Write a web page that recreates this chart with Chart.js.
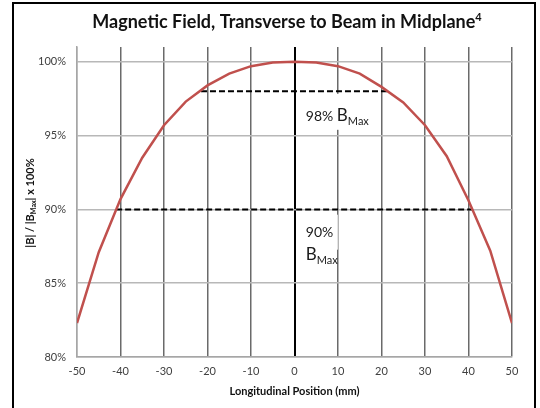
<!DOCTYPE html>
<html>
<head>
<meta charset="utf-8">
<script src="https://cdn.jsdelivr.net/npm/chart.js@4/dist/chart.umd.min.js"></script>
<style>
html, body { margin: 0; padding: 0; background: #fff; }
#wrap { width: 540px; height: 408px; }
</style>
</head>
<body>
<div id="wrap"><canvas id="fieldChart" width="540" height="408"></canvas></div>
<script>
// field profile (mm -> % of max)
const positions = [-50, -45, -40, -35, -30, -25, -20, -15, -10, -5, 0, 5, 10, 15, 20, 25, 30, 35, 40, 45, 50];
const fieldPercent = [82.3, 87.1, 90.7, 93.5, 95.7, 97.3, 98.4, 99.2, 99.7, 99.95, 100, 99.95, 99.7, 99.2, 98.3, 97.25, 95.7, 93.6, 90.6, 87.2, 82.3];

const xTicks = [-50, -40, -30, -20, -10, 0, 10, 20, 30, 40, 50];
const yTicks = [80, 85, 90, 95, 100];

// dashed marker lines (start / end position in mm)
const dash98X = [-21.5, 21.7];
const dash90X = [-41, 41];

const titleText = 'Magnetic Field, Transverse to Beam in Midplane';
const xTitle = 'Longitudinal Position (mm)';

const FONT = 'Lato, "Open Sans", sans-serif';

function drawParts(ctx, parts, x, y) {
    // parts: [text, font, dy]
    let cx = x;
    parts.forEach(p => {
        ctx.font = p[1];
        ctx.fillText(p[0], cx, y + (p[2] || 0));
        cx += ctx.measureText(p[0]).width;
    });
}

function partsWidth(ctx, parts) {
    let w = 0;
    parts.forEach(p => { ctx.font = p[1]; w += ctx.measureText(p[0]).width; });
    return w;
}

const decorPlugin = {
    id: 'decor',
    beforeDraw(chart) {
        const ctx = chart.ctx;
        ctx.save();
        ctx.fillStyle = '#fff';
        ctx.fillRect(0, 0, chart.width, chart.height);
        ctx.strokeStyle = '#000';
        ctx.lineWidth = 2;
        ctx.strokeRect(13, 3, 522, 450);
        ctx.restore();
    },
    afterDraw(chart) {
        const ctx = chart.ctx;
        const area = chart.chartArea;
        const xs = chart.scales.x, ys = chart.scales.y;
        ctx.save();
        ctx.fillStyle = '#111';
        ctx.textBaseline = 'alphabetic';

        // title
        const tParts = [[titleText, 'bold 18px ' + FONT, 0], ['4', 'bold 11px ' + FONT, -7]];
        const tw = partsWidth(ctx, tParts);
        drawParts(ctx, tParts, 287 - tw / 2, 28);

        // x axis title
        ctx.font = 'bold 11px ' + FONT;
        ctx.textAlign = 'center';
        ctx.fillText(xTitle, (area.left + area.right) / 2, 395);
        ctx.textAlign = 'left';

        // y axis title (rotated, with subscript)
        const yParts = [['|B| / |B', 'bold 11px ' + FONT, 0], ['Max', 'bold 7px ' + FONT, 2], ['| x 100%', 'bold 11px ' + FONT, 0]];
        const yw = partsWidth(ctx, yParts);
        ctx.save();
        ctx.translate(34, 203);
        ctx.rotate(-Math.PI / 2);
        drawParts(ctx, yParts, -yw / 2, 0);
        ctx.restore();

        // annotation boxes
        const ax = xs.getPixelForValue(2.6);
        let by = ys.getPixelForValue(96.0);
        ctx.fillStyle = '#fff';
        ctx.fillRect(ax - 6, by - 27, 62, 36);
        ctx.fillStyle = '#1a1a1a';
        drawParts(ctx, [['98% ', '14px ' + FONT, 0], ['B', '17px ' + FONT, 0], ['Max', '11px ' + FONT, 4]], ax, by);

        by = ys.getPixelForValue(88.15);
        ctx.fillStyle = '#fff';
        ctx.fillRect(ax - 6, by - 22, 38, 35);
        ctx.fillStyle = '#1a1a1a';
        drawParts(ctx, [['90%', '14px ' + FONT, 0]], ax, by);
        drawParts(ctx, [['B', '17px ' + FONT, 0], ['Max', '11px ' + FONT, 4]], ax, by + 23);
        ctx.restore();
    }
};

const ctx = document.getElementById('fieldChart').getContext('2d');
const fieldChart = new Chart(ctx, {
    type: 'line',
    data: {
        datasets: [
            {
                data: positions.map((p, i) => ({ x: p, y: fieldPercent[i] })),
                borderColor: '#c0504d',
                borderWidth: 2.5,
                pointRadius: 0,
                tension: 0,
                order: 0
            },
            {
                data: dash98X.map(p => ({ x: p, y: 98 })),
                borderColor: '#000',
                borderWidth: 2,
                borderDash: [6, 3],
                pointRadius: 0,
                order: 1
            },
            {
                data: dash90X.map(p => ({ x: p, y: 90 })),
                borderColor: '#000',
                borderWidth: 2,
                borderDash: [6, 3],
                pointRadius: 0,
                order: 1
            }
        ]
    },
    options: {
        responsive: false,
        animation: false,
        layout: { padding: { left: 0, right: 28, top: 47, bottom: 0 } },
        plugins: {
            legend: { display: false },
            title: { display: false },
            tooltip: { enabled: false }
        },
        scales: {
            x: {
                type: 'linear',
                min: -50,
                max: 50,
                afterBuildTicks: (scale) => { scale.ticks = xTicks.map(v => ({ value: v })); },
                afterFit: (scale) => { scale.height = 51; },
                border: { display: true, color: '#a6a6a6', width: 1.5 },
                grid: {
                    drawTicks: false,
                    color: (c) => c.tick.value === 0 ? '#000' : (c.tick.value === -50 ? '#a6a6a6' : '#6a6a6a'),
                    lineWidth: (c) => c.tick.value === 0 ? 2 : 1.5
                },
                ticks: {
                    padding: 8,
                    color: '#404040',
                    font: { family: FONT, size: 11 },
                    maxRotation: 0
                }
            },
            y: {
                min: 80,
                max: 101,
                afterBuildTicks: (scale) => { scale.ticks = yTicks.map(v => ({ value: v })); },
                afterFit: (scale) => { scale.width = 77; },
                border: { display: true, color: '#a6a6a6', width: 1.5 },
                grid: {
                    drawTicks: false,
                    color: '#b8b8b8',
                    lineWidth: 1.5
                },
                ticks: {
                    padding: 11,
                    color: '#404040',
                    font: { family: FONT, size: 11 },
                    callback: (v) => v + '%'
                }
            }
        }
    },
    plugins: [decorPlugin]
});
</script>
</body>
</html>
